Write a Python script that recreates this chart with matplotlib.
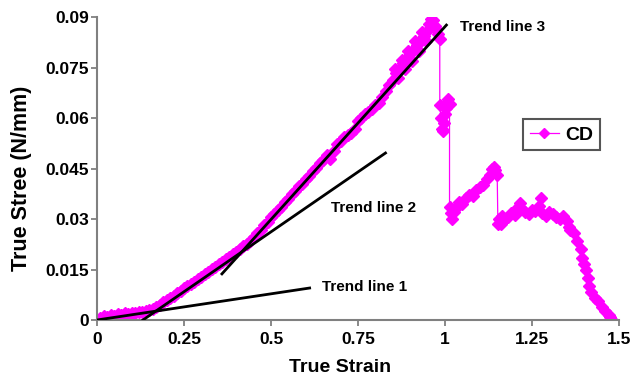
import matplotlib
matplotlib.use('Agg')
import matplotlib.pyplot as plt

plt.rcParams['font.family'] = ['Liberation Sans', 'DejaVu Sans']
plt.rcParams['font.weight'] = 'bold'

# CD curve
strain = [0.00, 0.01, 0.02, 0.03, 0.04, 0.05, 0.06, 0.07, 0.08, 0.09,
          0.10, 0.11, 0.12, 0.13, 0.14, 0.15, 0.16,
          0.17, 0.18, 0.19, 0.20, 0.21, 0.22, 0.23, 0.24, 0.25, 0.26,
          0.27, 0.28, 0.29, 0.30, 0.31, 0.32, 0.33, 0.34, 0.35, 0.36,
          0.37, 0.38, 0.39, 0.40, 0.41, 0.42, 0.43, 0.44, 0.45, 0.46,
          0.47, 0.48, 0.49, 0.50, 0.51, 0.52, 0.53, 0.54, 0.55, 0.56,
          0.57, 0.58, 0.59, 0.60, 0.61, 0.62, 0.63, 0.64, 0.65, 0.66,
          0.67, 0.68, 0.69, 0.70, 0.71, 0.72, 0.73, 0.74, 0.75, 0.76,
          0.77, 0.78, 0.79, 0.80, 0.81, 0.82, 0.83, 0.84, 0.85, 0.855,
          0.86, 0.865, 0.87, 0.875, 0.88, 0.885, 0.89, 0.895, 0.90, 0.905,
          0.91, 0.915, 0.92, 0.925, 0.93, 0.935, 0.94, 0.945, 0.95, 0.955,
          0.96, 0.965, 0.97, 0.975, 0.98, 0.985,
          0.985, 0.988, 0.991, 0.994, 0.997, 1.0, 1.003, 1.006, 1.01, 1.013,
          1.013, 1.016, 1.02, 1.025, 1.03, 1.035, 1.04, 1.05, 1.06, 1.07, 1.08,
          1.09, 1.10, 1.11, 1.12, 1.13, 1.135, 1.14, 1.145, 1.15,
          1.152, 1.155, 1.16, 1.165, 1.17, 1.18, 1.19, 1.20, 1.21, 1.215,
          1.22, 1.23, 1.24, 1.25, 1.26, 1.27, 1.275, 1.28, 1.29, 1.30,
          1.31, 1.32, 1.33, 1.34, 1.35, 1.355, 1.36, 1.37, 1.38, 1.39,
          1.395, 1.40, 1.405, 1.41, 1.415, 1.42, 1.43, 1.44, 1.45, 1.46,
          1.47, 1.475, 1.478]
stress = [0.0000, 0.0006, 0.0012, 0.0009, 0.0015, 0.0013, 0.0019, 0.0016, 0.0021, 0.0018,
          0.0022, 0.0020, 0.0024, 0.0023, 0.0027, 0.0029, 0.0033,
          0.0038, 0.0044, 0.0052, 0.0058, 0.0066, 0.0071, 0.0080, 0.0086, 0.0094, 0.0100,
          0.0108, 0.0114, 0.0123, 0.0129, 0.0137, 0.0143, 0.0152, 0.0158, 0.0166, 0.0173,
          0.0180, 0.0188, 0.0195, 0.0203, 0.0211, 0.0219, 0.0227, 0.0236, 0.0247, 0.0258,
          0.0268, 0.0281, 0.0291, 0.0305, 0.0314, 0.0327, 0.0336, 0.0351, 0.0359, 0.0374,
          0.0382, 0.0397, 0.0405, 0.0419, 0.0428, 0.0442, 0.0452, 0.0466, 0.0474, 0.0489,
          0.0478, 0.0502, 0.0522, 0.0533, 0.0545, 0.0550, 0.0556, 0.0566, 0.0590, 0.0600,
          0.0612, 0.0618, 0.0628, 0.0640, 0.0645, 0.0662, 0.0680, 0.0698, 0.0714, 0.0745,
          0.0735, 0.0720, 0.0750, 0.0772, 0.0762, 0.0745, 0.0778, 0.0800, 0.0790, 0.0770,
          0.0805, 0.0828, 0.0818, 0.0800, 0.0832, 0.0855, 0.0845, 0.0830, 0.0860, 0.0878,
          0.0895, 0.0890, 0.0872, 0.0865, 0.0850, 0.0835,
          0.0640, 0.0600, 0.0568, 0.0560, 0.0585, 0.0612, 0.0630, 0.0648, 0.0655, 0.0642,
          0.0336, 0.0318, 0.0300, 0.0322, 0.0330, 0.0338, 0.0350, 0.0345, 0.0362, 0.0372, 0.0368,
          0.0385, 0.0396, 0.0402, 0.0420, 0.0432, 0.0448, 0.0455, 0.0446, 0.0430,
          0.0285, 0.0300, 0.0285, 0.0310, 0.0296, 0.0305, 0.0318, 0.0312, 0.0335, 0.0348,
          0.0330, 0.0322, 0.0316, 0.0328, 0.0325, 0.0340, 0.0362, 0.0318, 0.0310, 0.0322,
          0.0315, 0.0305, 0.0300, 0.0308, 0.0295, 0.0275, 0.0268, 0.0258, 0.0235, 0.0210,
          0.0185, 0.0165, 0.0150, 0.0125, 0.0100, 0.0082, 0.0065, 0.0055, 0.0040, 0.0028,
          0.0015, 0.0008, 0.0003]

# trend lines (end points)
trend1_x = [0.0, 0.611]
trend1_y = [0.0, 0.0095]
trend2_x = [0.132, 0.829]
trend2_y = [0.0, 0.0496]
trend3_x = [0.359, 1.004]
trend3_y = [0.0137, 0.0876]

xticks = [0, 0.25, 0.5, 0.75, 1, 1.25, 1.5]
xtick_labels = ['0', '0.25', '0.5', '0.75', '1', '1.25', '1.5']
yticks = [0, 0.015, 0.03, 0.045, 0.06, 0.075, 0.09]
ytick_labels = ['0', '0.015', '0.03', '0.045', '0.06', '0.075', '0.09']

fig = plt.figure(figsize=(6.32, 3.83), dpi=100)
ax = fig.add_axes([97/632, 63/383, 522/632, 303/383])

ax.plot(strain, stress, color='#ff00ff', lw=0.9, marker='D', ms=6,
        mec='#ff00ff', mfc='#ff00ff', label='CD', zorder=2)
ax.plot(trend1_x, trend1_y, color='black', lw=2, zorder=3)
ax.plot(trend2_x, trend2_y, color='black', lw=2, zorder=3)
ax.plot(trend3_x, trend3_y, color='black', lw=2, zorder=3)

ax.text(1.043, 0.087, 'Trend line 3', fontsize=11, fontweight='bold', va='center')
ax.text(0.672, 0.0333, 'Trend line 2', fontsize=11, fontweight='bold', va='center')
ax.text(0.646, 0.0098, 'Trend line 1', fontsize=11, fontweight='bold', va='center')

ax.set_xlim(0, 1.5)
ax.set_ylim(0, 0.09)
ax.set_xticks(xticks)
ax.set_xticklabels(xtick_labels)
ax.set_yticks(yticks)
ax.set_yticklabels(ytick_labels)
ax.tick_params(labelsize=12.5, length=4, width=1.3, color='#808080', direction='out')
ax.tick_params(axis='x', pad=5)
ax.tick_params(axis='y', pad=2)

for side in ['top', 'right']:
    ax.spines[side].set_visible(False)
for side in ['left', 'bottom']:
    ax.spines[side].set_color('#808080')
    ax.spines[side].set_linewidth(1.5)

ax.set_xlabel('True Strain', fontsize=14, fontweight='bold')
ax.set_ylabel('True Stree (N/mm)', fontsize=15.5, fontweight='bold')
ax.xaxis.set_label_coords(0.466, -0.13)
ax.yaxis.set_label_coords(-0.125, 0.469)

leg = ax.legend(loc='upper left', bbox_to_anchor=(0.816, 0.663), fontsize=14,
                fancybox=False, framealpha=1, handlelength=1.5, numpoints=1,
                markerscale=0.8, borderpad=0.35, handletextpad=0.3, borderaxespad=0)
leg.get_frame().set_edgecolor('#555555')
leg.get_frame().set_linewidth(1.5)

fig.savefig('out.png', dpi=100)
